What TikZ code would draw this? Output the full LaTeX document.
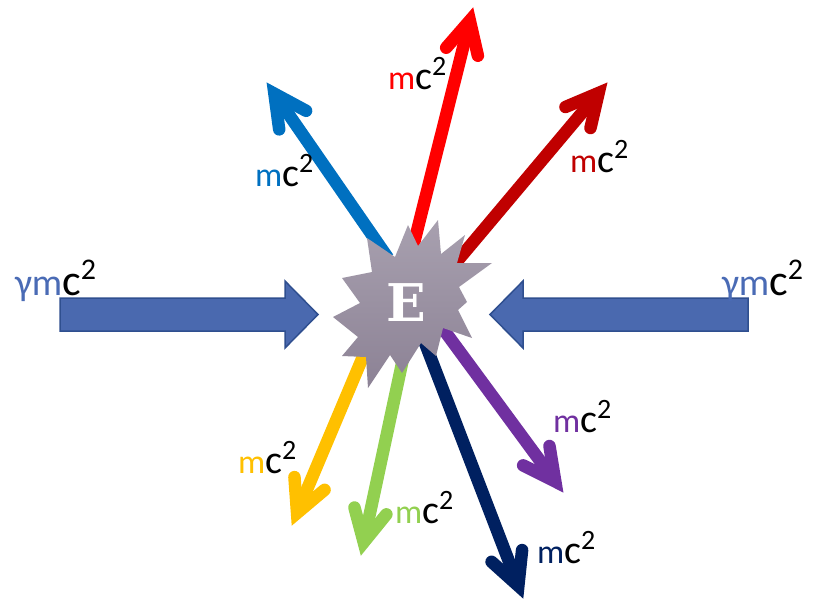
\documentclass[tikz,border=0pt]{standalone}
\usepackage{fontspec}
\setmainfont{Carlito}
\newfontfamily\glyphE{DejaVu Serif Bold}
\usetikzlibrary{calc}

\definecolor{rayblue}{HTML}{0070C0}
\definecolor{rayred}{HTML}{FF0000}
\definecolor{raydarkred}{HTML}{C00000}
\definecolor{rayyellow}{HTML}{FFC000}
\definecolor{raygreen}{HTML}{92D050}
\definecolor{raynavy}{HTML}{002060}
\definecolor{raypurple}{HTML}{7030A0}
\definecolor{beamfill}{HTML}{4A69AF}
\definecolor{beamedge}{HTML}{2F4F8F}
\definecolor{beamtext}{HTML}{4A6BB5}
\definecolor{startop}{HTML}{A8A0AF}
\definecolor{starbot}{HTML}{8C8295}

% label pieces: coloured m, larger black c, raised 2
\newcommand\msz{\fontsize{34}{34}\selectfont}
\newcommand\csz{\fontsize{40}{40}\selectfont}
\newcommand\twosz{\fontsize{28}{28}\selectfont}
\newcommand\sqtwo{\raisebox{14pt}{\twosz 2}}
\newcommand\emc[1]{{\msz\textcolor{#1}{m}}{\csz c}\sqtwo}
\newcommand\gemc{{\fontsize{38}{38}\selectfont\textcolor{beamtext}{γm}}{\fontsize{44}{44}\selectfont c}\raisebox{16pt}{\fontsize{30}{30}\selectfont 2}}

% a thick ray with an open, round-ended head
\newcommand\emitray[3]{%
  \coordinate (#3-apex) at ($(#3)!13pt!(#2)$);
  \draw[#1,line width=12.5pt] (#2) -- ($(#3)!22pt!(#2)$);
  \draw[#1,line width=12.5pt,line cap=round,line join=miter,miter limit=20]
    ($(#3-apex)!36pt!27:(#2)$) -- (#3-apex) -- ($(#3-apex)!36pt!-27:(#2)$);
}

\tikzset{
  lbl/.style={anchor=base west,inner sep=0pt,outer sep=0pt},
  beam/.style={fill=beamfill,draw=beamedge,line width=1.5pt,line join=miter},
}

\begin{document}
\begin{tikzpicture}[x=1pt,y=-1pt]
\useasboundingbox (0,0) rectangle (818,600);

% ray end points
\coordinate (sBlue) at (388,258);   \coordinate (tBlue) at (267,83);
\coordinate (sRed) at (411,255);    \coordinate (tRed) at (473,8);
\coordinate (sDred) at (448,272);   \coordinate (tDred) at (607,83);
\coordinate (sYel) at (370,340);    \coordinate (tYel) at (292,525);
\coordinate (sGrn) at (407,340);    \coordinate (tGrn) at (361,555);
\coordinate (sNavy) at (420,330);   \coordinate (tNavy) at (523,598);
\coordinate (sPurp) at (438,322);   \coordinate (tPurp) at (563,492);

\emitray{rayblue}{sBlue}{tBlue}
\emitray{rayred}{sRed}{tRed}
\emitray{raydarkred}{sDred}{tDred}
\emitray{rayyellow}{sYel}{tYel}
\emitray{raygreen}{sGrn}{tGrn}
\emitray{raynavy}{sNavy}{tNavy}
\emitray{raypurple}{sPurp}{tPurp}

% incoming beams
\draw[beam] (60,298) -- (285,298) -- (285,281) -- (318,314.5) -- (285,348) -- (285,331) -- (60,331) -- cycle;
\draw[beam] (748,298) -- (523,298) -- (523,281) -- (490,314.5) -- (523,348) -- (523,331) -- (748,331) -- cycle;

% collision burst
\shade[top color=startop,bottom color=starbot]
  (333,317) -- (360,303) -- (342,278) -- (372,272) -- (367,238) -- (395,257)
  -- (408,225) -- (418,246) -- (438,220) -- (441,254) -- (465,235) -- (457,263)
  -- (492,263) -- (459,287) -- (467,302) -- (458,310) -- (472,338) -- (443,328)
  -- (436,356) -- (421,343) -- (402,373) -- (390,355) -- (368,388) -- (366,357)
  -- (342,356) -- (358,337) -- cycle;
\node[text=white,inner sep=0pt] (burst) at (406,303)
  {\glyphE\fontsize{52}{52}\selectfont E};

% labels
\node[lbl] (lRed) at (388,89) {\emc{rayred}};
\node[lbl] (lDred) at (570,172) {\emc{raydarkred}};
\node[lbl] (lBlue) at (255,186) {\emc{rayblue}};
\node[lbl] (lPurp) at (553,432) {\emc{raypurple}};
\node[lbl] (lYel) at (238,473) {\emc{rayyellow}};
\node[lbl] (lGrn) at (395,523) {\emc{raygreen}};
\node[lbl] (lNavy) at (537,563) {\emc{raynavy}};
\node[lbl] (lLeft) at (15,295) {\gemc};
\node[lbl] (lRight) at (722,295) {\gemc};
\end{tikzpicture}
\end{document}
